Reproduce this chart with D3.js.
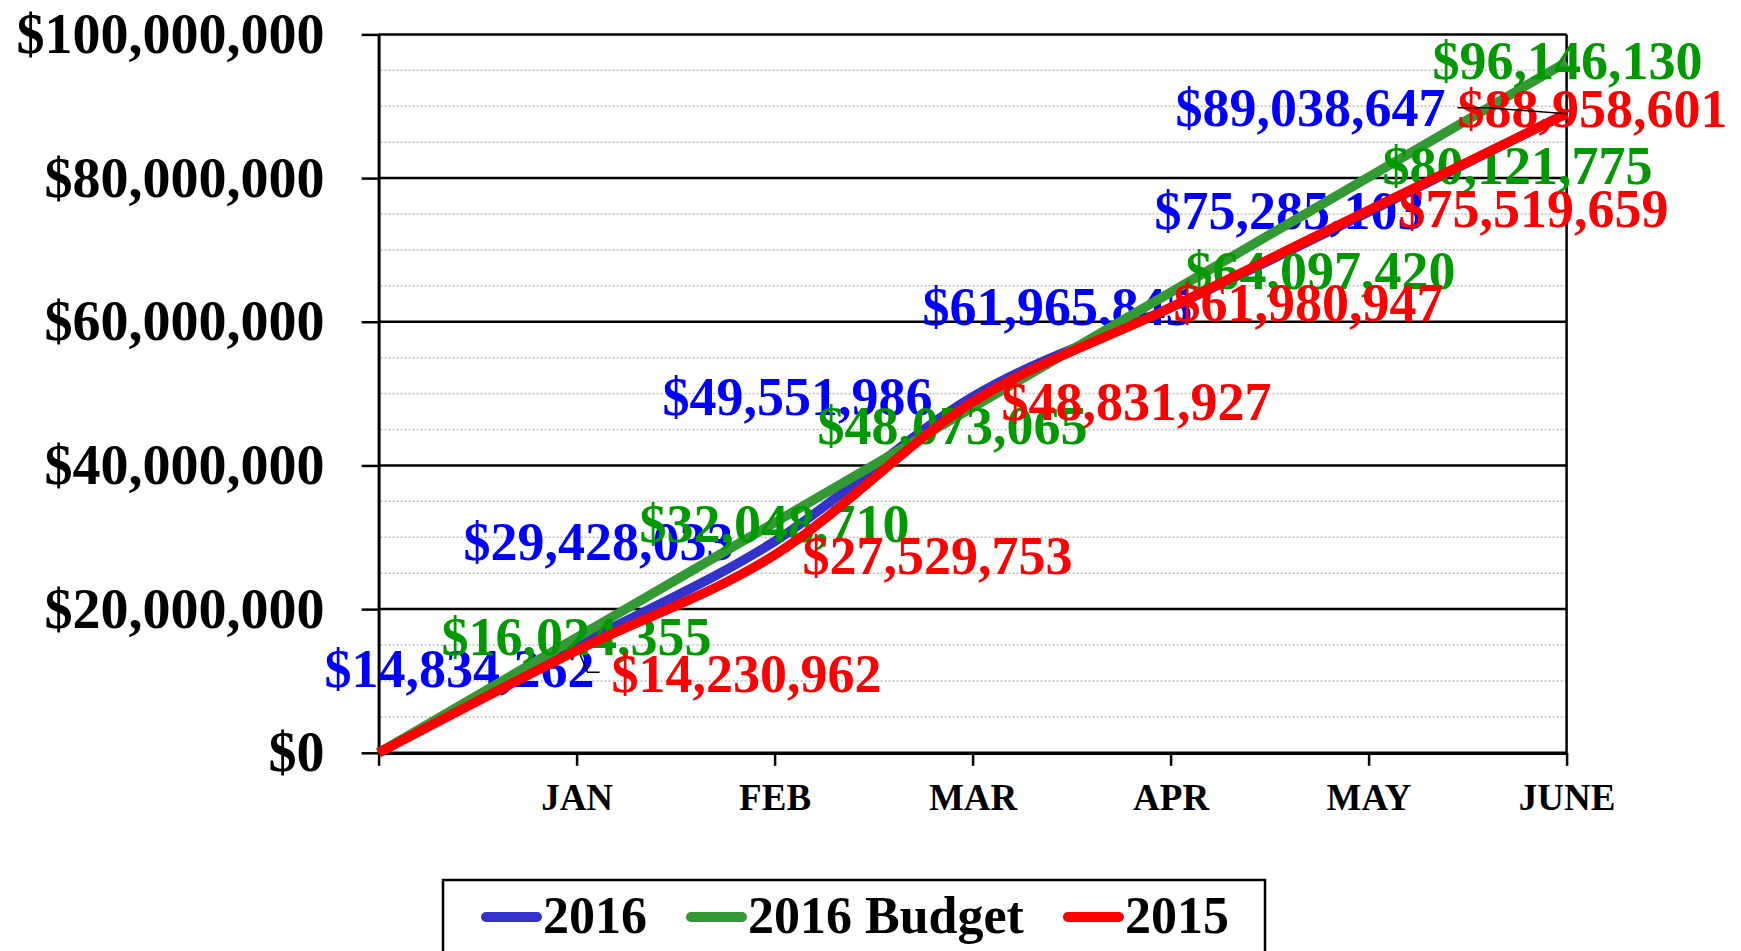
<!DOCTYPE html>
<html>
<head>
<meta charset="utf-8">
<script src="https://cdn.jsdelivr.net/npm/d3@7"></script>
<style>
  body { margin: 0; background: #fff; }
  svg { display: block; }
  text { font-family: "Liberation Serif", "Times New Roman", serif; font-weight: bold; }
</style>
</head>
<body>
<svg id="chart"></svg>
<script>
// chart data
const months = ["", "JAN", "FEB", "MAR", "APR", "MAY", "JUNE"];
const sales2016 = [0, 14834262, 29428033, 49551986, 61965845, 75285103, 89038647];
const budget2016 = [0, 16024355, 32048710, 48073065, 64097420, 80121775, 96146130];
const sales2015 = [0, 14230962, 27529753, 48831927, 61980947, 75519659, 88958601];
const seriesNames = ["2016", "2016 Budget", "2015"];
const yTicks = [0, 20000000, 40000000, 60000000, 80000000, 100000000];

// where Excel put each data label, relative to its point (left edge, baseline)
const labelOffsets2016 = [null, [-252, 41], [-311, 19], [-310, 18], [-248, 17], [-214, 17], [-391, 13]];
const labelOffsetsBudget = [null, [-135, 17], [-135, 19], [-155, 37], [15, -3], [14, 7], [-134, 17]];
const labelOffsets2015 = [null, [35, 41], [28, 19], [29, 18], [3, 13], [30, 17], [-109, 13]];

const width = 1741;
const height = 951;
const margin = { top: 34.4, right: 174.4, bottom: 198.2, left: 378.6 };
const innerWidth = width - margin.left - margin.right;
const innerHeight = height - margin.top - margin.bottom;

const svg = d3.select("#chart").attr("width", width).attr("height", height);

const xScale = d3.scalePoint().domain(months).range([0, innerWidth]);
const yScale = d3.scaleLinear().domain([0, 100000000]).range([innerHeight, 0]);

const g = svg.append("g").attr("transform", `translate(${margin.left},${margin.top})`);

// minor dotted gridlines every 5M
const minor = d3.range(5000000, 100000000, 5000000).filter((v) => v % 20000000 !== 0);
g.selectAll(".minor")
  .data(minor)
  .enter()
  .append("line")
  .attr("x1", 2)
  .attr("x2", innerWidth)
  .attr("y1", (d) => yScale(d))
  .attr("y2", (d) => yScale(d))
  .attr("stroke", "#bdbdbd")
  .attr("stroke-width", 1.5)
  .attr("stroke-dasharray", "2,2");

// major gridlines
g.selectAll(".major")
  .data(yTicks.slice(1))
  .enter()
  .append("line")
  .attr("x1", 0)
  .attr("x2", innerWidth)
  .attr("y1", (d) => yScale(d))
  .attr("y2", (d) => yScale(d))
  .attr("stroke", "#000")
  .attr("stroke-width", 2.5);

// right border of plot area
g.append("line")
  .attr("x1", innerWidth)
  .attr("x2", innerWidth)
  .attr("y1", 0)
  .attr("y2", innerHeight)
  .attr("stroke", "#000")
  .attr("stroke-width", 2.5);

// y axis
const yAxis = d3
  .axisLeft(yScale)
  .tickValues(yTicks)
  .tickFormat((d) => "$" + d3.format(",")(d))
  .tickSize(17)
  .tickSizeOuter(0)
  .tickPadding(37);

const yAxisG = g.append("g").call(yAxis);
yAxisG.attr("font-family", null).attr("font-size", null);
yAxisG.select(".domain").attr("stroke-width", 3);
yAxisG.selectAll(".tick line").attr("stroke-width", 2.5);
yAxisG.selectAll(".tick text").attr("font-size", 56).attr("fill", "#000");

// x axis
const xAxis = d3.axisBottom(xScale).tickSize(13).tickSizeOuter(0).tickPadding(18);
const xAxisG = g.append("g").attr("transform", `translate(0,${innerHeight})`).call(xAxis);
xAxisG.attr("font-family", null).attr("font-size", null);
xAxisG.select(".domain").attr("stroke-width", 3.5);
xAxisG.selectAll(".tick line").attr("stroke-width", 2.5);
xAxisG.selectAll(".tick text").attr("font-size", 37).attr("fill", "#000");

// series
const series = [
  { name: seriesNames[0], values: sales2016, color: "#3333cc", labelColor: "#0000ff", offsets: labelOffsets2016 },
  { name: seriesNames[1], values: budget2016, color: "#339933", labelColor: "#009900", offsets: labelOffsetsBudget },
  { name: seriesNames[2], values: sales2015, color: "#ff0000", labelColor: "#ff0000", offsets: labelOffsets2015 }
];

const line = d3
  .line()
  .x((d, i) => xScale(months[i]))
  .y((d) => yScale(d))
  .curve(d3.curveCatmullRom.alpha(0));

series.forEach((s, si) => {
  const sg = g.append("g");
  sg.append("path")
    .datum(s.values)
    .attr("d", line)
    .attr("fill", "none")
    .attr("stroke", s.color)
    .attr("stroke-width", 9.5)
    .attr("stroke-linejoin", "round");

  const pts = s.values
    .map((v, i) => ({ v, i, px: xScale(months[i]), py: yScale(v) }))
    .filter((d) => d.i > 0);

  sg.selectAll("text")
    .data(pts)
    .enter()
    .append("text")
    .attr("x", (d) => d.px + s.offsets[d.i][0])
    .attr("y", (d) => d.py + s.offsets[d.i][1])
    .attr("font-size", 54)
    .attr("fill", s.labelColor)
    .text((d) => "$" + d3.format(",")(d.v));

  // leader lines for labels moved away from their points
  if (si === 0) {
    const d = pts[0];
    const lx = d.px + s.offsets[1][0] + 267;
    const ly = d.py + 26;
    sg.append("polyline")
      .attr("points", `${d.px},${d.py} ${lx - 4},${ly} ${lx + 8},${ly}`)
      .attr("fill", "none")
      .attr("stroke", "#000")
      .attr("stroke-width", 1.5);
  }
  if (si === 2) {
    const d = pts[5];
    const lx = d.px + s.offsets[6][0];
    const ly = d.py - 6;
    sg.append("polyline")
      .attr("points", `${lx},${ly} ${lx + 30},${ly} ${d.px},${d.py}`)
      .attr("fill", "none")
      .attr("stroke", "#000")
      .attr("stroke-width", 1.5);
  }
});

// legend
const legend = svg.append("g").attr("transform", "translate(443,880)");
legend.append("rect")
  .attr("x", 0)
  .attr("y", 0)
  .attr("width", 822)
  .attr("height", 120)
  .attr("fill", "#fff")
  .attr("stroke", "#000")
  .attr("stroke-width", 2.5);

let lx = 39;
series.forEach((s) => {
  legend.append("line")
    .attr("x1", lx + 4)
    .attr("x2", lx + 55)
    .attr("y1", 37)
    .attr("y2", 37)
    .attr("stroke", s.color)
    .attr("stroke-width", 10)
    .attr("stroke-linecap", "round");
  const t = legend.append("text")
    .attr("x", lx + 61)
    .attr("y", 53)
    .attr("font-size", 52)
    .attr("fill", "#000")
    .text(s.name);
  lx += 61 + t.node().getComputedTextLength() + 40;
});
</script>
</body>
</html>
